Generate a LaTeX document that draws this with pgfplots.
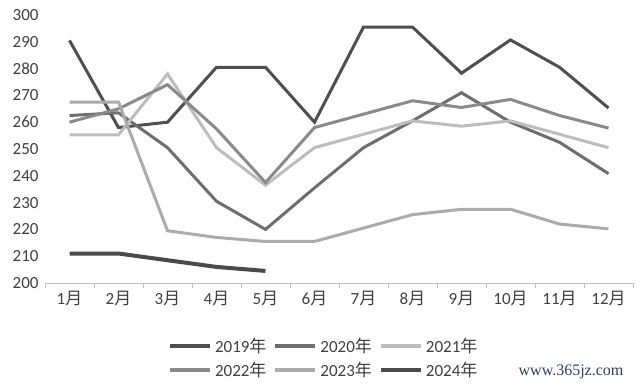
\documentclass[border=0pt]{standalone}
\usepackage{fontspec}
\setmainfont{Carlito}
\newfontfamily\cjk{Noto Sans CJK SC}
\newfontfamily\wmfont{Liberation Serif}
\usepackage{pgfplots}
\pgfplotsset{compat=1.18}
\definecolor{c2019}{HTML}{4F4F4F}
\definecolor{c2020}{HTML}{6E6E6E}
\definecolor{c2021}{HTML}{BDBDBD}
\definecolor{c2022}{HTML}{8A8A8A}
\definecolor{c2023}{HTML}{ABABAB}
\definecolor{c2024}{HTML}{4A4A4A}
\definecolor{axgray}{HTML}{BFBFBF}
\definecolor{txt}{HTML}{404040}
\definecolor{wm}{HTML}{2B3E6B}
\begin{document}
\begin{tikzpicture}
\useasboundingbox (-45bp,-102bp) rectangle (596bp,283bp);
\begin{axis}[
  at={(0,0)}, anchor=origin,
  width=588bp, height=268bp, scale only axis,
  xmin=0.5, xmax=12.5, ymin=200, ymax=300,
  axis x line*=bottom, axis y line*=left,
  y axis line style={draw=none},
  x axis line style={draw=axgray, line width=0.8bp},
  ytick={200,210,...,300},
  ytick style={draw=none},
  yticklabel style={font=\fontsize{17bp}{19bp}\selectfont, text=txt, xshift=-3bp},
  /pgf/number format/assume math mode=true,
  xtick={0.5,1.5,...,12.5}, xticklabels={},
  xtick style={draw=axgray, line width=0.8bp},
  xtick align=outside, major tick length=5bp,
  extra x ticks={1,...,12},
  extra x tick labels={1{\cjk 月},2{\cjk 月},3{\cjk 月},4{\cjk 月},5{\cjk 月},6{\cjk 月},7{\cjk 月},8{\cjk 月},9{\cjk 月},10{\cjk 月},11{\cjk 月},12{\cjk 月}},
  extra x tick style={major tick length=0pt, xticklabel style={font=\fontsize{17bp}{19bp}\selectfont, text=txt, yshift=-5bp}},
  clip=false,
  legend columns=3,
  legend style={at={(axis description cs:0.474,-0.28)}, anchor=center, draw=none, fill=none,
    font=\fontsize{17bp}{19bp}\selectfont, text=txt, inner sep=0pt,
    /tikz/every even column/.append style={column sep=5bp},
    /tikz/every odd column/.append style={column sep=1bp},
    row sep=5bp},
  legend image code/.code={\draw[#1, line width=4bp] (0bp,0bp) -- (40bp,0bp);},
]
\addplot[c2019, line width=3bp] coordinates {(1,290.5) (2,258) (3,260) (4,280.5) (5,280.5) (6,260) (7,295.5) (8,295.5) (9,278.3) (10,290.7) (11,280.5) (12,265.3)};
\addlegendentry{2019{\cjk 年}}
\addplot[c2020, line width=3bp] coordinates {(1,262.5) (2,263.5) (3,250.5) (4,230.5) (5,220) (6,235.5) (7,250.5) (8,260.5) (9,271) (10,260) (11,252.5) (12,240.8)};
\addlegendentry{2020{\cjk 年}}
\addplot[c2021, line width=3bp] coordinates {(1,255.3) (2,255.3) (3,278) (4,250.5) (5,236.5) (6,250.5) (7,255.5) (8,260.5) (9,258.5) (10,260.5) (11,255.5) (12,250.5)};
\addlegendentry{2021{\cjk 年}}
\addplot[c2022, line width=3bp] coordinates {(1,260) (2,265) (3,274) (4,257.5) (5,237.5) (6,258) (7,263) (8,268) (9,265.5) (10,268.5) (11,262.5) (12,257.8)};
\addlegendentry{2022{\cjk 年}}
\addplot[c2023, line width=3bp] coordinates {(1,267.5) (2,267.5) (3,219.5) (4,217) (5,215.5) (6,215.5) (7,220.5) (8,225.5) (9,227.5) (10,227.5) (11,222) (12,220.2)};
\addlegendentry{2023{\cjk 年}}
\addplot[c2024, line width=4bp] coordinates {(1,211) (2,211) (3,208.5) (4,206) (5,204.5)};
\addlegendentry{2024{\cjk 年}}
\end{axis}
\node[anchor=center, text=wm, font=\wmfont\fontsize{16bp}{18bp}\selectfont] at (526bp,-89bp) {www.365jz.com};
\end{tikzpicture}
\end{document}
